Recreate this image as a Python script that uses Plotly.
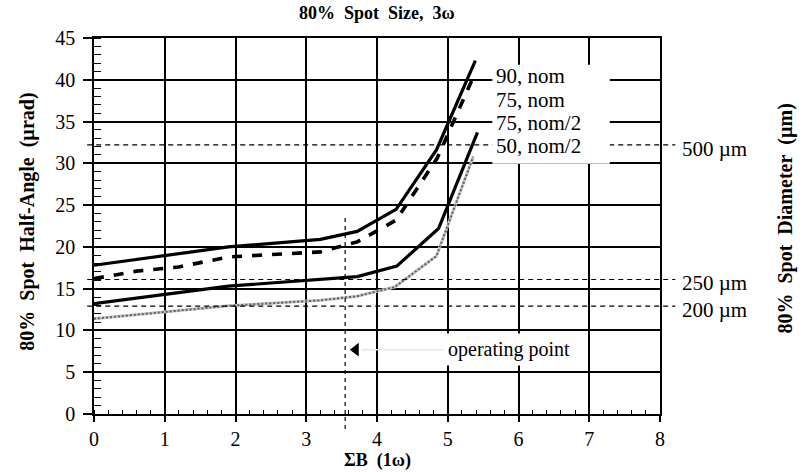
import plotly.graph_objects as go

# ---- data -------------------------------------------------------------
b_90_nom = [0, 1.9, 3.2, 3.72, 4.27, 4.84, 5.39]
a_90_nom = [17.8, 20.0, 20.9, 21.85, 24.5, 31.6, 42.3]

b_75_nom = [0, 0.6, 1.2, 1.9, 3.2, 3.72, 4.27, 4.85, 5.36]
a_75_nom = [16.2, 17.1, 17.6, 18.8, 19.4, 20.6, 23.2, 30.6, 40.3]

b_75_half = [0, 1.9, 3.72, 4.28, 4.87, 5.42]
a_75_half = [13.2, 15.3, 16.45, 17.7, 22.2, 33.7]

b_50_half = [0, 1.9, 3.2, 3.72, 4.25, 4.84, 5.36]
a_50_half = [11.4, 12.95, 13.6, 14.1, 15.2, 18.9, 30.8]

series_labels = ["90, nom", "75, nom", "75, nom/2", "50, nom/2"]

# spot-diameter reference levels (half-angle in µrad -> diameter label)
diam_levels = [32.2, 16.1, 12.9]
diam_labels = ["500 µm", "250 µm", "200 µm"]

op_b = 3.55            # operating point ΣB
op_top = 23.7          # top of the operating-point marker line
arrow_b, arrow_a = 3.70, 7.7

x_ticks = list(range(0, 9))
y_ticks = list(range(0, 50, 5))

SERIF = "Liberation Serif, Times New Roman, serif"
NB = "\u00a0"

fig = go.Figure()

fig.add_trace(go.Scatter(x=b_90_nom, y=a_90_nom, mode="lines",
                         line=dict(color="black", width=3.2), name=series_labels[0]))
fig.add_trace(go.Scatter(x=b_75_nom, y=a_75_nom, mode="lines",
                         line=dict(color="black", width=3.6, dash="10px,10px"),
                         name=series_labels[1]))
fig.add_trace(go.Scatter(x=b_75_half, y=a_75_half, mode="lines",
                         line=dict(color="black", width=3.2), name=series_labels[2]))
# grey dotted curve: light base line with darker dots on top
fig.add_trace(go.Scatter(x=b_50_half, y=a_50_half, mode="lines",
                         line=dict(color="#c4c4c4", width=3), name=series_labels[3]))
fig.add_trace(go.Scatter(x=b_50_half, y=a_50_half, mode="lines",
                         line=dict(color="#606060", width=2, dash="2px,2px"),
                         showlegend=False))

# operating-point arrowhead
fig.add_trace(go.Scatter(x=[arrow_b], y=[arrow_a], mode="markers",
                         marker=dict(symbol="triangle-left", size=12, color="black"),
                         showlegend=False))

shapes = []
for lvl in diam_levels:
    shapes.append(dict(type="line", xref="paper", yref="y", x0=-0.012, x1=1.027,
                       y0=lvl, y1=lvl, line=dict(color="black", width=1.2, dash="5px,4px"),
                       layer="above"))
shapes.append(dict(type="line", xref="x", yref="y", x0=op_b, x1=op_b, y0=0, y1=op_top,
                   line=dict(color="black", width=1.2, dash="4px,4px"), layer="above"))
shapes.append(dict(type="line", xref="x", yref="paper", x0=op_b, x1=op_b, y0=-0.04, y1=0,
                   line=dict(color="black", width=1.2, dash="4px,4px"), layer="above"))
# faint leader from arrowhead to label
shapes.append(dict(type="line", xref="x", yref="y", x0=arrow_b + 0.08, x1=4.95,
                   y0=arrow_a, y1=arrow_a, line=dict(color="#e6e6e6", width=1.5),
                   layer="above"))
# white panel behind the series labels
shapes.append(dict(type="rect", xref="x", yref="y", x0=5.63, x1=7.29, y0=29.95, y1=41.8,
                   fillcolor="white", line=dict(width=0), layer="above"))
fig.update_layout(shapes=shapes)

ann = []
label_y = [40.4, 37.6, 34.8, 32.1]
for txt, yy in zip(series_labels, label_y):
    ann.append(dict(x=5.66, y=yy, xref="x", yref="y", text=txt, showarrow=False,
                    xanchor="left", yanchor="middle",
                    font=dict(family=SERIF, size=21, color="black")))
for txt, lvl in zip(diam_labels, diam_levels):
    ann.append(dict(x=1.036, y=lvl, xref="paper", yref="y", text=txt, showarrow=False,
                    xanchor="left", yanchor="middle", yshift=-4,
                    font=dict(family=SERIF, size=21, color="black")))
ann.append(dict(x=4.93, y=arrow_a, xref="x", yref="y", text="operating point",
                showarrow=False, xanchor="left", yanchor="middle",
                bgcolor="white", borderpad=4,
                font=dict(family=SERIF, size=20, color="black")))
ann.append(dict(x=0.5, y=1.067, xref="paper", yref="paper",
                text=f"<b>80%{NB}{NB}Spot{NB}{NB}Size,{NB}{NB}3ω</b>", showarrow=False,
                xanchor="center", yanchor="middle",
                font=dict(family=SERIF, size=18, color="black")))
ann.append(dict(x=0.5, y=-0.124, xref="paper", yref="paper",
                text=f"<b>ΣB{NB}{NB}(1ω)</b>", showarrow=False,
                xanchor="center", yanchor="middle",
                font=dict(family=SERIF, size=18, color="black")))
ann.append(dict(x=-0.117, y=0.511, xref="paper", yref="paper", textangle=-90,
                text=f"<b>80%{NB}{NB}Spot{NB}{NB}Half-Angle{NB}{NB}(µrad)</b>",
                showarrow=False, xanchor="center", yanchor="middle",
                font=dict(family=SERIF, size=20, color="black")))
ann.append(dict(x=1.221, y=0.52, xref="paper", yref="paper", textangle=-90,
                text=f"<b>80%{NB}{NB}Spot{NB}{NB}Diameter{NB}{NB}(µm)</b>",
                showarrow=False, xanchor="center", yanchor="middle",
                font=dict(family=SERIF, size=20, color="black")))
fig.update_layout(annotations=ann)

axis_font = dict(family=SERIF, size=20, color="black")
fig.update_xaxes(range=[0, 8], tickmode="array", tickvals=x_ticks,
                 ticktext=[str(v) for v in x_ticks],
                 showgrid=True, gridcolor="black", gridwidth=1.6,
                 showline=True, linecolor="black", linewidth=1.6, mirror=True,
                 ticks="outside", ticklen=6, tickwidth=1.5, tickcolor="black",
                 minor=dict(ticks="inside", dtick=0.2, tick0=0, ticklen=4,
                            tickcolor="black", tickwidth=1.2, showgrid=False),
                 zeroline=False, tickfont=axis_font)
fig.update_yaxes(range=[0, 45], tickmode="array", tickvals=y_ticks,
                 ticktext=[str(v) for v in y_ticks],
                 showgrid=True, gridcolor="black", gridwidth=1.6,
                 showline=True, linecolor="black", linewidth=1.6, mirror=True,
                 ticks="outside", ticklen=9, tickwidth=1.5, tickcolor="black",
                 ticklabelstandoff=4,
                 minor=dict(ticks="inside", dtick=1, tick0=0, ticklen=7,
                            tickcolor="black", tickwidth=1.2, showgrid=False),
                 zeroline=False, tickfont=axis_font)

fig.update_layout(width=804, height=472,
                  margin=dict(l=94, r=144, t=38, b=58),
                  paper_bgcolor="white", plot_bgcolor="white",
                  font=dict(family=SERIF, color="black"),
                  showlegend=False)

fig.write_html("out.html")
